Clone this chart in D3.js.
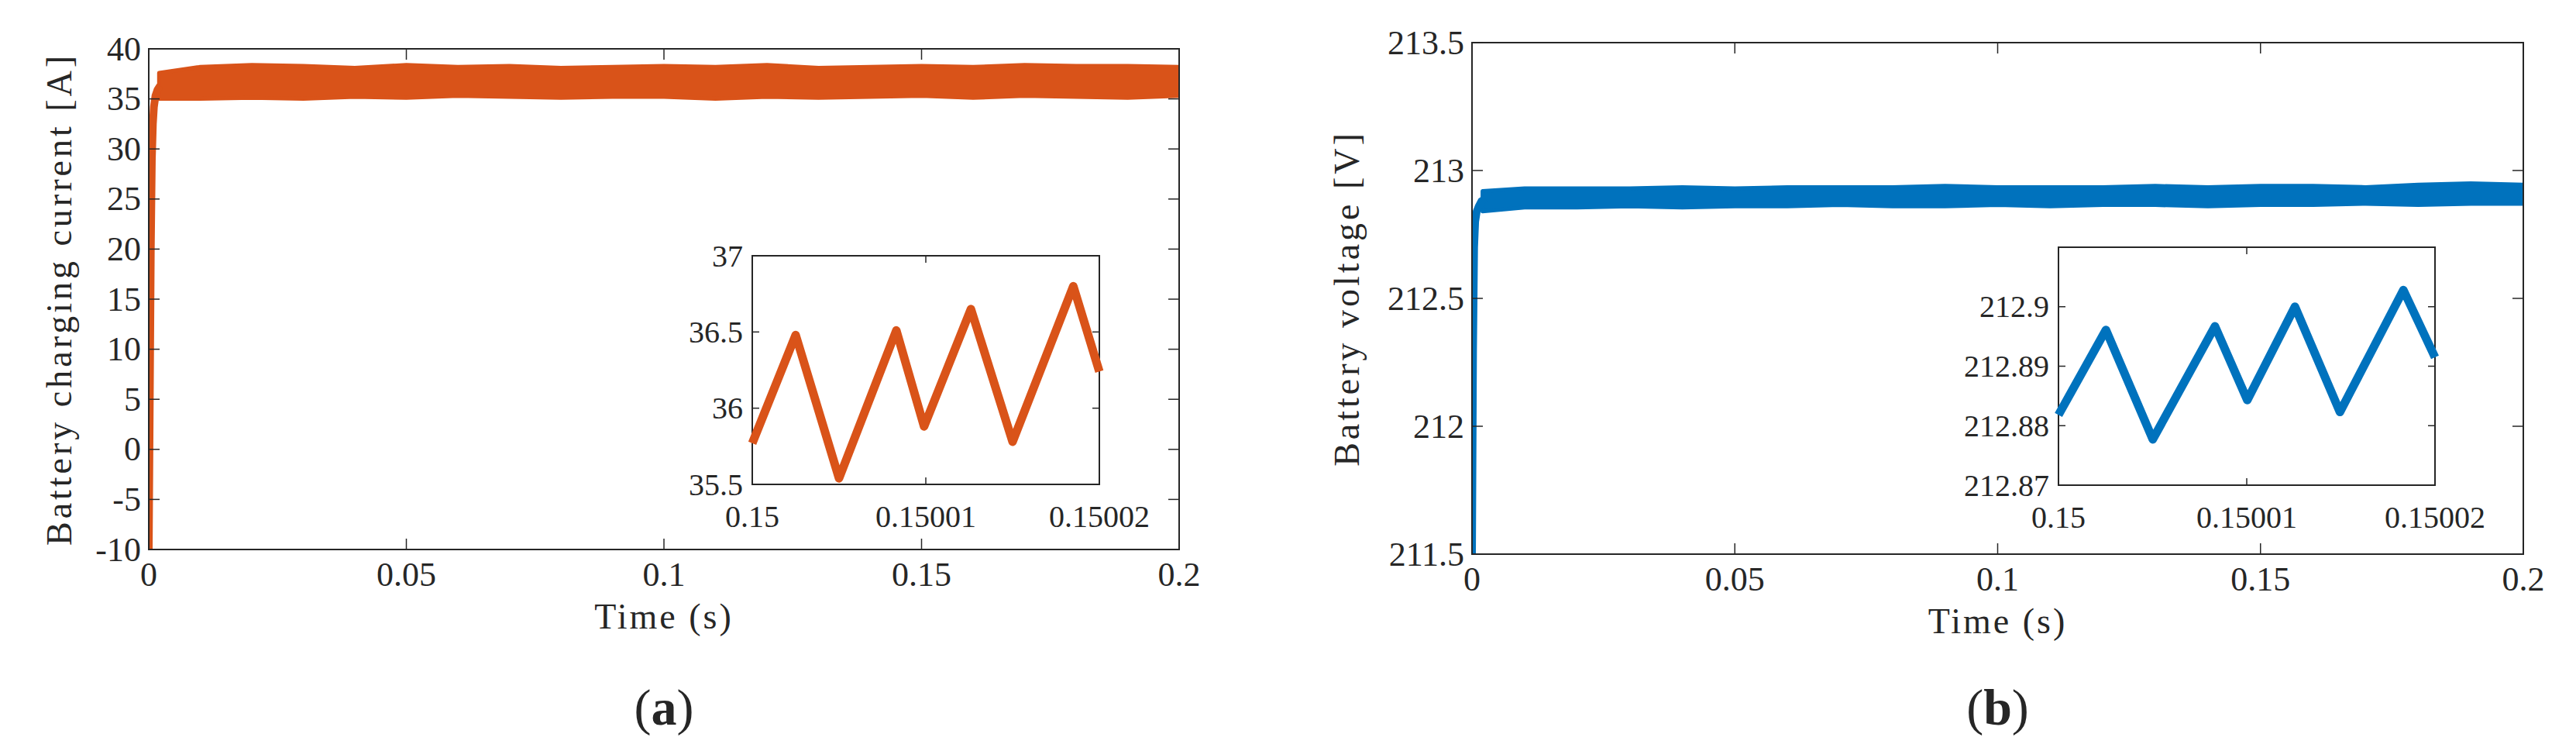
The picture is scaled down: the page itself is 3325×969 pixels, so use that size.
<!DOCTYPE html>
<html>
<head>
<meta charset="utf-8">
<script src="https://cdn.jsdelivr.net/npm/d3@7"></script>
<style>
  body { margin: 0; background: #fff; }
  svg text { font-family: "Liberation Serif", "Times New Roman", "DejaVu Serif", serif; fill: #262626; }
</style>
</head>
<body>
<script>
// ---- data ----
var mainTimeTicks = [0, 0.05, 0.1, 0.15, 0.2];
var insetTimeTicks = [0.15, 0.15001, 0.15002];

// (a) battery current
var curTicks = [-10, -5, 0, 5, 10, 15, 20, 25, 30, 35, 40];
var curStartT = [0, 0.0002, 0.0004, 0.0006, 0.0008, 0.001, 0.0013, 0.0017, 0.0022];
var curStartV = [-10, 5, 20, 29, 32.5, 34.2, 35.3, 35.9, 36.3];
var bandT = [0.002, 0.01, 0.02, 0.03, 0.04, 0.05, 0.06, 0.07, 0.08, 0.09, 0.1, 0.11, 0.12, 0.13, 0.14, 0.15, 0.16, 0.17, 0.18, 0.19, 0.2];
var curUpper = [37.6, 38.2, 38.4, 38.3, 38.1, 38.4, 38.2, 38.3, 38.1, 38.2, 38.3, 38.2, 38.4, 38.1, 38.2, 38.3, 38.2, 38.4, 38.3, 38.3, 38.2];
var curLower = [35.0, 35.0, 35.1, 35.0, 35.2, 35.1, 35.3, 35.2, 35.1, 35.2, 35.2, 35.0, 35.2, 35.1, 35.2, 35.3, 35.1, 35.3, 35.2, 35.1, 35.3];
var curInsetTicks = [35.5, 36, 36.5, 37];
var curInsetT = [0, 2.5e-6, 5e-6, 8.3e-6, 9.9e-6, 1.26e-5, 1.5e-5, 1.85e-5, 2e-5];
var curInsetV = [35.77, 36.48, 35.54, 36.51, 35.88, 36.65, 35.78, 36.8, 36.24];

// (b) battery voltage
var volTicks = [211.5, 212, 212.5, 213, 213.5];
var volStartT = [0, 0.0002, 0.0004, 0.0006, 0.0009, 0.0013, 0.0018, 0.0025];
var volStartV = [211.5, 212.3, 212.7, 212.8, 212.84, 212.86, 212.88, 212.89];
var volUpper = [212.92, 212.93, 212.93, 212.93, 212.935, 212.93, 212.935, 212.935, 212.935, 212.94, 212.935, 212.935, 212.935, 212.94, 212.935, 212.94, 212.94, 212.935, 212.945, 212.95, 212.945];
var volLower = [212.84, 212.855, 212.855, 212.86, 212.855, 212.86, 212.86, 212.865, 212.86, 212.86, 212.865, 212.86, 212.865, 212.865, 212.86, 212.865, 212.865, 212.87, 212.865, 212.87, 212.87];
var volInsetTicks = [212.87, 212.88, 212.89, 212.9];
var volInsetT = [0, 2.52e-6, 5.01e-6, 8.31e-6, 1.003e-5, 1.256e-5, 1.495e-5, 1.832e-5, 2e-5];
var volInsetV = [212.8818, 212.8961, 212.8777, 212.8967, 212.8843, 212.9, 212.8823, 212.9028, 212.8915];

var W = 3325, H = 969;
var svg = d3.select('body').append('svg').attr('width', W).attr('height', H);

function fmt(d) { return String(+d.toFixed(6)); }

function frame(g, x, y, xt, yt, len, fs, labelGap, yGap) {
  var x0 = x.range()[0], x1 = x.range()[1], y0 = y.range()[0], y1 = y.range()[1];
  g.append('rect').attr('x', x0).attr('y', y1).attr('width', x1 - x0).attr('height', y0 - y1)
    .attr('fill', 'none').attr('stroke', '#262626').attr('stroke-width', 2);
  xt.forEach(function (d) {
    g.append('line').attr('x1', x(d)).attr('x2', x(d)).attr('y1', y0).attr('y2', y0 - len).attr('stroke', '#262626').attr('stroke-width', 1.5);
    g.append('line').attr('x1', x(d)).attr('x2', x(d)).attr('y1', y1).attr('y2', y1 + len).attr('stroke', '#262626').attr('stroke-width', 1.5);
    g.append('text').attr('x', x(d)).attr('y', y0 + labelGap).attr('text-anchor', 'middle')
      .attr('dominant-baseline', 'hanging').attr('font-size', fs).text(fmt(d));
  });
  yt.forEach(function (d) {
    g.append('line').attr('y1', y(d)).attr('y2', y(d)).attr('x1', x0).attr('x2', x0 + len).attr('stroke', '#262626').attr('stroke-width', 1.5);
    g.append('line').attr('y1', y(d)).attr('y2', y(d)).attr('x1', x1).attr('x2', x1 - len).attr('stroke', '#262626').attr('stroke-width', 1.5);
    g.append('text').attr('x', x0 - yGap).attr('y', y(d)).attr('text-anchor', 'end')
      .attr('dominant-baseline', 'central').attr('font-size', fs).text(fmt(d));
  });
}

function panel(o) {
  var g = svg.append('g');
  var x = d3.scaleLinear().domain([0, 0.2]).range([o.left, o.right]);
  var y = d3.scaleLinear().domain(o.yDom).range([o.bottom, o.top]);
  var clipId = 'clip' + o.id;
  svg.append('clipPath').attr('id', clipId).append('rect')
    .attr('x', o.left).attr('y', o.top).attr('width', o.right - o.left).attr('height', o.bottom - o.top);
  var data = g.append('g').attr('clip-path', 'url(#' + clipId + ')');

  var band = bandT.map(function (t, i) { return { t: t, hi: o.upper[i], lo: o.lower[i] }; });
  data.append('path').datum(band).attr('fill', o.color).attr('stroke', o.color).attr('stroke-width', 5)
    .attr('stroke-linejoin', 'round')
    .attr('d', d3.area().x(function (d) { return x(d.t); }).y0(function (d) { return y(d.lo); }).y1(function (d) { return y(d.hi); }));
  var start = o.startT.map(function (t, i) { return [t, o.startV[i]]; });
  data.append('path').datum(start).attr('fill', 'none').attr('stroke', o.color).attr('stroke-width', 10)
    .attr('d', d3.line().x(function (d) { return x(d[0]); }).y(function (d) { return y(d[1]); }));

  frame(g, x, y, mainTimeTicks, o.yTicks, 14, 44, 16, 10);

  g.append('text').attr('x', (o.left + o.right) / 2).attr('y', o.bottom + 86).attr('text-anchor', 'middle')
    .attr('dominant-baseline', 'central').attr('font-size', 46).attr('letter-spacing', 3).text('Time (s)');
  g.append('text').attr('transform', 'translate(' + o.ylabX + ',' + (o.top + o.bottom) / 2 + ') rotate(-90)')
    .attr('text-anchor', 'middle').attr('dominant-baseline', 'central').attr('font-size', 46)
    .attr('letter-spacing', 4).text(o.ylabel);
  g.append('text').attr('x', (o.left + o.right) / 2).attr('y', 912).attr('text-anchor', 'middle')
    .attr('dominant-baseline', 'central').attr('font-size', 66).attr('font-weight', 'bold')
    .html('<tspan font-weight="normal">(</tspan>' + o.tag + '<tspan font-weight="normal">)</tspan>');

  // inset
  var ix = d3.scaleLinear().domain([0.15, 0.15002]).range([o.inL, o.inR]);
  var iy = d3.scaleLinear().domain(o.inDom).range([o.inB, o.inT]);
  g.append('rect').attr('x', o.inL).attr('y', o.inT).attr('width', o.inR - o.inL).attr('height', o.inB - o.inT).attr('fill', '#fff');
  frame(g, ix, iy, insetTimeTicks, o.inTicks, 9, 40, 26, 12);
  var pts = o.inT_.map(function (t, i) { return [0.15 + t, o.inV[i]]; });
  g.append('path').datum(pts).attr('fill', 'none').attr('stroke', o.color).attr('stroke-width', 11)
    .attr('stroke-linejoin', 'round')
    .attr('d', d3.line().x(function (d) { return ix(d[0]); }).y(function (d) { return iy(d[1]); }));
}

panel({ id: 'a', left: 192, right: 1522, top: 63, bottom: 709, yDom: [-10, 40], yTicks: curTicks,
  color: '#D95319', upper: curUpper, lower: curLower, startT: curStartT, startV: curStartV,
  ylabel: 'Battery charging current [A]', ylabX: 76, tag: 'a',
  inL: 971, inR: 1419, inT: 330, inB: 625, inDom: [35.5, 37], inTicks: curInsetTicks,
  inT_: curInsetT, inV: curInsetV });

panel({ id: 'b', left: 1900, right: 3257, top: 55, bottom: 715, yDom: [211.5, 213.5], yTicks: volTicks,
  color: '#0072BD', upper: volUpper, lower: volLower, startT: volStartT, startV: volStartV,
  ylabel: 'Battery voltage [V]', ylabX: 1738, tag: 'b',
  inL: 2657, inR: 3143, inT: 319, inB: 626, inDom: [212.87, 212.91], inTicks: volInsetTicks,
  inT_: volInsetT, inV: volInsetV });
</script>
</body>
</html>
